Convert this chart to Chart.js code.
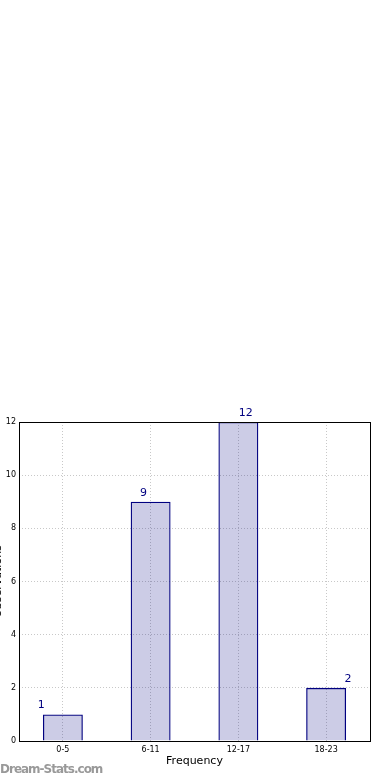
<!DOCTYPE html>
<html>
<head>
<meta charset="utf-8">
<script src="https://cdn.jsdelivr.net/npm/chart.js@4"></script>
<style>
html,body{margin:0;padding:0;background:#fff;width:390px;height:780px;overflow:hidden;position:relative;}
#wrap{position:absolute;left:-8px;top:401px;width:398px;height:379px;}
#mark{position:absolute;left:0;top:762px;font-family:"DejaVu Sans",sans-serif;font-size:12px;color:#999;font-weight:bold;letter-spacing:-1px;}
</style>
</head>
<body>
<div id="wrap"><canvas id="c"></canvas></div>
<div id="mark">Dream-Stats.com</div>
<script>
const categories = ["0-5", "6-11", "12-17", "18-23"];
const counts = [1, 9, 12, 2];
const yTicks = [0, 2, 4, 6, 8, 10, 12];
const xTitle = "Frequency";
const yTitle = "Observations";

const frame = {
  id: 'frame',
  afterDatasetsDraw(chart) {
    const a = chart.chartArea, ctx = chart.ctx;
    ctx.save();
    ctx.strokeStyle = '#000';
    ctx.lineWidth = 1;
    ctx.strokeRect(Math.round(a.left) + 0.5, Math.round(a.top) + 0.5, Math.round(a.right - a.left), Math.round(a.bottom - a.top));
    const meta = chart.getDatasetMeta(0);
    ctx.fillStyle = '#000080';
    ctx.font = '11px "DejaVu Sans"';
    ctx.textAlign = 'center';
    ctx.textBaseline = 'middle';
    const n = meta.data.length;
    meta.data.forEach((bar, i) => {
      const off = (i - (n - 1) / 2) * 14.5;
      ctx.fillText(String(chart.data.datasets[0].data[i]), bar.x + off, bar.y - 9);
    });
    ctx.restore();
  }
};

new Chart(document.getElementById('c'), {
  type: 'bar',
  data: {
    labels: categories,
    datasets: [{
      data: counts,
      backgroundColor: 'rgba(0,0,128,0.2)',
      borderColor: '#000080',
      borderWidth: 1.3,
      barPercentage: 0.455,
      categoryPercentage: 1.0
    }]
  },
  options: {
    responsive: true,
    maintainAspectRatio: false,
    animation: false,
    devicePixelRatio: 1,
    layout: { padding: { top: 21, right: 20, bottom: 12, left: 0 } },
    plugins: { legend: { display: false }, tooltip: { enabled: false } },
    scales: {
      x: {
        offset: true,
        grid: { display: true, offset: false, color: '#c8c8c8', drawTicks: false },
        border: { display: false, dash: [1, 2] },
        ticks: { color: '#000', font: { family: 'DejaVu Sans', size: 8 }, padding: 4, maxRotation: 0 },
        title: { display: true, text: xTitle, color: '#000', font: { family: 'DejaVu Sans', size: 11 }, padding: 0 },
        afterFit(s) { s.height = 27; }
      },
      y: {
        min: 0, max: 12,
        afterBuildTicks(s) { s.ticks = yTicks.map(v => ({ value: v })); },
        grid: { color: '#c8c8c8', drawTicks: false },
        border: { display: false, dash: [1, 2] },
        ticks: { color: '#000', font: { family: 'DejaVu Sans', size: 8 }, padding: 3 },
        title: { display: true, text: yTitle, color: '#000', font: { family: 'DejaVu Sans', size: 11 }, padding: 0 },
        afterFit(s) { s.width = 27; }
      }
    }
  },
  plugins: [frame]
});
</script>
</body>
</html>
